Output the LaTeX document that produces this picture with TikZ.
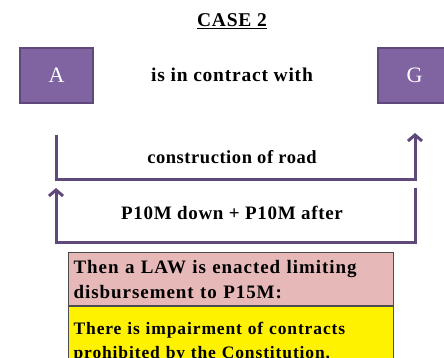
\documentclass[tikz,border=0pt]{standalone}
\usepackage{fontspec}
\setmainfont{Liberation Serif}
\usetikzlibrary{arrows.meta}
\definecolor{boxpurple}{HTML}{8064A2}
\definecolor{edgepurple}{HTML}{5F497A}
\definecolor{lawpink}{HTML}{E6B9B8}
\newcommand{\widebf}[1]{\bfseries\addfontfeatures{LetterSpace=#1}}

\begin{document}
\begin{tikzpicture}[x=1pt,y=-1pt,
  party/.style={draw=edgepurple, line width=1.5pt, fill=boxpurple, text=white,
    minimum width=73pt, minimum height=55pt, inner sep=0pt,
    font=\fontsize{22}{22}\selectfont},
  flow/.style={draw=edgepurple, line width=3pt, line join=miter,
    -{Straight Barb[length=6pt,width=14pt,line width=3pt]}},
  lbl/.style={font=\fontsize{19.5}{22}\selectfont\widebf{4}},
  notebox/.style={draw=black!70, line width=1.2pt, anchor=north west,
    minimum width=325pt, text width=315pt, align=left, inner sep=5pt}]

        \clip (0,0) rectangle (444,358);

        % title
            \node[lbl] (title) at (232,21) {\underline{CASE 2}};

        % parties
            \node[party] (A) at (56.5,75.5) {A};
            \node[party] (G) at (414.5,75.5) {G};
            \node[lbl] (contract) at (232,75) {is in contract with};

        % obligations
            \coordinate (s1) at (56,135);
            \coordinate (c1) at (56,180);
            \coordinate (c2) at (415,180);
            \coordinate (e1) at (415,133);
            \draw[flow] (s1) -- (c1) -- (c2) -- (e1);
            \node[lbl, font=\fontsize{18.5}{22}\selectfont\widebf{3}] (road) at (232,157) {construction of road};

            \coordinate (s2) at (415,188);
            \coordinate (c3) at (415,242);
            \coordinate (c4) at (56,242);
            \coordinate (e2) at (56,188);
            \draw[flow] (s2) -- (c3) -- (c4) -- (e2);
            \node[lbl, font=\fontsize{19}{22}\selectfont\widebf{3.5}] (price) at (232,213) {P10M down + P10M after};

        % the law
            \node[notebox, fill=lawpink, minimum height=53pt, inner ysep=4pt,
                  font=\fontsize{19}{25}\selectfont\widebf{5}] (law) at (68,252)
                {Then a LAW is enacted limiting\\disbursement to P15M:};
            \node[notebox, fill=yellow, minimum height=70pt, inner ysep=4pt,
                  font=\fontsize{17.5}{24}\selectfont\widebf{5}] (impair) at (law.south west)
                {There is impairment of contracts\\prohibited by the Constitution.};

\end{tikzpicture}
\end{document}
